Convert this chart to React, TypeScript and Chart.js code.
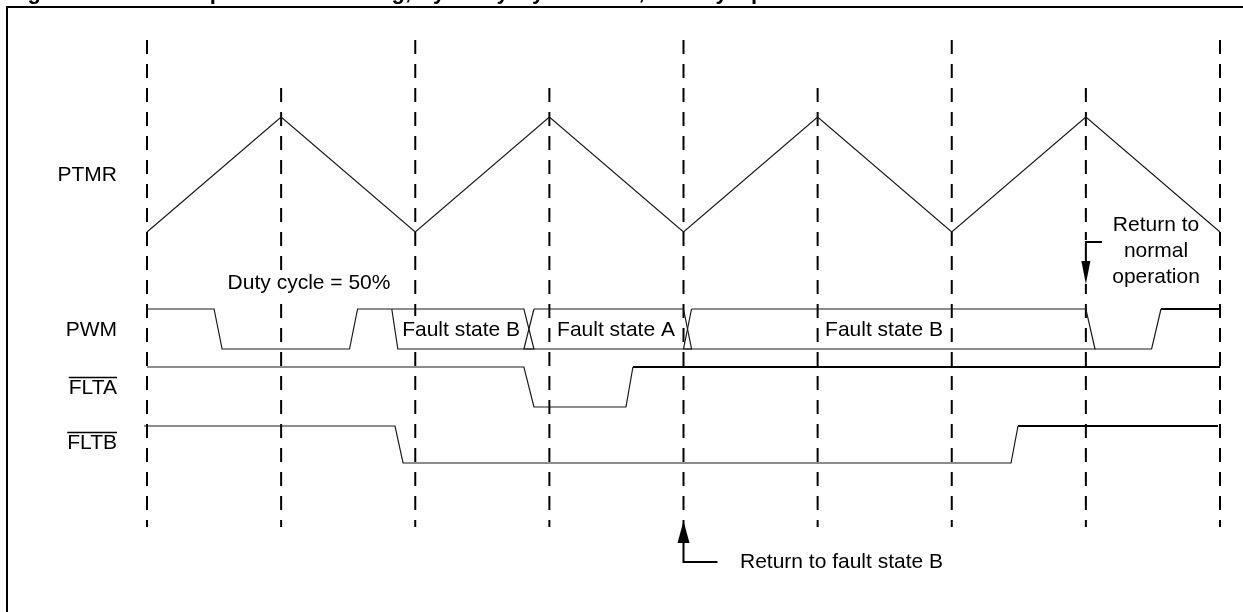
import React, { useEffect, useRef } from "react";
import { Chart, registerables } from "chart.js";

Chart.register(...registerables);

// ---- data (time in half PWM periods, levels 0 = low, 1 = high) ----
const gridTimes = [0, 1, 2, 3, 4, 5, 6, 7, 8];
const ptmrTimes = [0, 1, 2, 3, 4, 5, 6, 7, 8];
const ptmrLevels = [0, 1, 0, 1, 0, 1, 0, 1, 0];

const pwmPre: [number, number][] = [[0, 1], [0.5, 1], [0.56, 0], [1.51, 0], [1.57, 1], [1.825, 1]];
const busB1: [number, number][] = [[1.825, 1], [2.81, 1], [2.885, 0], [1.87, 0], [1.825, 1]];
const busA: [number, number][] = [[2.885, 1], [4.0, 1], [4.06, 0], [2.81, 0], [2.885, 1]];
const busB2: [number, number][] = [[4.06, 1], [7.0, 1], [7.068, 0], [4.0, 0], [4.06, 1]];
const pwmPostLow: [number, number][] = [[7.068, 0], [7.49, 0], [7.56, 1]];
const pwmPostHigh: [number, number][] = [[7.56, 1], [8, 1]];

const fltaThin: [number, number][] = [[0, 1], [2.81, 1], [2.885, 0], [3.571, 0], [3.623, 1]];
const fltaThick: [number, number][] = [[3.623, 1], [8, 1]];
const fltbThin: [number, number][] = [[-0.022, 1], [1.849, 1], [1.909, 0], [6.442, 0], [6.494, 1]];
const fltbThick: [number, number][] = [[6.494, 1], [7.985, 1]];

const signalNames = ["PTMR", "PWM", "FLTA", "FLTB"];
const busLabels = ["Fault state B", "Fault state A", "Fault state B"];
const busLabelTimes = [2.342, 3.497, 5.495];
const dutyLabel = "Duty cycle = 50%";
const dutyLabelTime = 1.208;
const normalLabel = ["Return to", "normal", "operation"];
const normalTime = 7.0;
const normalLabelTime = 7.523;
const faultBLabel = "Return to fault state B";
const faultBTime = 4.0;
const faultBLabelTime = 4.421;
const titleText = "Figure 15-24: Example of Fault Timing, Cycle-by-Cycle Mode, Priority Operation";

// ---- layout (pixels) ----
const W = 1243;
const H = 612;
const X0 = 147;
const UNIT = 134.125;
const lanes = {
  PTMR: { low: 232, high: 117, labelY: 175 },
  PWM: { low: 349, high: 309, labelY: 330 },
  FLTA: { low: 407, high: 367, labelY: 388 },
  FLTB: { low: 463, high: 426, labelY: 443 },
};
const FONT = '"Liberation Sans", Arial, Helvetica, sans-serif';

function lv(lane: { low: number; high: number }, level: number) {
  return lane.low + level * (lane.high - lane.low);
}
function pts(lane: { low: number; high: number }, arr: [number, number][]) {
  return arr.map(([t, l]) => ({ x: t, y: lv(lane, l) }));
}

const decor = {
  id: "decor",
  afterDatasetsDraw(chart: any) {
    const ctx = chart.ctx as CanvasRenderingContext2D;
    const X = (t: number) => chart.scales.x.getPixelForValue(t);
    const Y = (v: number) => chart.scales.y.getPixelForValue(v);
    ctx.save();
    // frame
    ctx.strokeStyle = "#000";
    ctx.lineWidth = 2;
    ctx.beginPath();
    ctx.moveTo(7, H + 5);
    ctx.lineTo(7, 7);
    ctx.lineTo(W + 5, 7);
    ctx.stroke();
    // title (clipped at top)
    ctx.fillStyle = "#000";
    ctx.font = `bold 22px ${FONT}`;
    ctx.textAlign = "left";
    ctx.textBaseline = "alphabetic";
    ctx.fillText(titleText, 8, -1);

    // signal labels
    ctx.font = `21px ${FONT}`;
    ctx.textAlign = "right";
    ctx.textBaseline = "middle";
    const laneList = [lanes.PTMR, lanes.PWM, lanes.FLTA, lanes.FLTB];
    signalNames.forEach((n, i) => {
      const y = Y(laneList[i].labelY);
      ctx.fillText(n, 117, y);
      if (n.startsWith("FLT")) {
        const w = ctx.measureText(n).width;
        ctx.lineWidth = 1.5;
        ctx.beginPath();
        ctx.moveTo(117 - w, y - 10.5);
        ctx.lineTo(117, y - 10.5);
        ctx.stroke();
      }
    });

    // bus labels with white background
    ctx.textAlign = "center";
    const busY = Y((lanes.PWM.low + lanes.PWM.high) / 2);
    busLabels.forEach((s, i) => {
      const x = X(busLabelTimes[i]);
      const w = ctx.measureText(s).width;
      ctx.fillStyle = "#fff";
      ctx.fillRect(x - w / 2 - 1, busY - 13, w + 2, 26);
      ctx.fillStyle = "#000";
      ctx.fillText(s, x, busY + 1);
    });

    // duty cycle
    {
      const x = X(dutyLabelTime);
      const y = Y(283);
      const w = ctx.measureText(dutyLabel).width;
      ctx.fillStyle = "#fff";
      ctx.fillRect(x - w / 2 - 2, y - 13, w + 4, 26);
      ctx.fillStyle = "#000";
      ctx.fillText(dutyLabel, x, y);
    }

    // return to normal operation
    normalLabel.forEach((s, i) => {
      ctx.fillText(s, X(normalLabelTime), Y(225 + i * 26));
    });
    ctx.lineWidth = 2;
    ctx.strokeStyle = "#000";
    {
      const x = X(normalTime);
      ctx.fillStyle = "#fff";
      ctx.fillRect(x - 3, Y(240), 6, Y(284) - Y(240));
      ctx.fillStyle = "#000";
      ctx.beginPath();
      ctx.moveTo(x + 16, Y(242));
      ctx.lineTo(x, Y(242));
      ctx.lineTo(x, Y(264));
      ctx.stroke();
      ctx.beginPath();
      ctx.moveTo(x - 4.5, Y(261));
      ctx.lineTo(x + 4.5, Y(261));
      ctx.lineTo(x, Y(284));
      ctx.closePath();
      ctx.fill();
    }

    // return to fault state B
    {
      const x = X(faultBTime);
      ctx.beginPath();
      ctx.moveTo(x, Y(540));
      ctx.lineTo(x, Y(562));
      ctx.lineTo(x + 34, Y(562));
      ctx.stroke();
      ctx.beginPath();
      ctx.moveTo(x - 6, Y(543));
      ctx.lineTo(x + 6, Y(543));
      ctx.lineTo(x, Y(521));
      ctx.closePath();
      ctx.fill();
      ctx.textAlign = "left";
      ctx.fillText(faultBLabel, X(faultBLabelTime), Y(562));
    }
    ctx.restore();
  },
};

export default function App() {
  const ref = useRef<HTMLCanvasElement | null>(null);
  useEffect(() => {
    if (!ref.current) return;
    const thin = { borderColor: "#1a1a1a", borderWidth: 1.2 };
    const thick = { borderColor: "#000", borderWidth: 2.2 };
    const mk = (data: any[], style: any, extra: any = {}) => ({
      data,
      showLine: true,
      fill: false,
      pointRadius: 0,
      tension: 0,
      ...style,
      ...extra,
    });
    const datasets: any[] = [
      mk(ptmrTimes.map((t, i) => ({ x: t, y: lv(lanes.PTMR, ptmrLevels[i]) })), thin),
      mk(pts(lanes.PWM, pwmPre), thin),
      mk(pts(lanes.PWM, busB1), thin),
      mk(pts(lanes.PWM, busA), thin),
      mk(pts(lanes.PWM, busB2), thin),
      mk(pts(lanes.PWM, pwmPostLow), thin),
      mk(pts(lanes.PWM, pwmPostHigh), thick),
      mk(pts(lanes.FLTA, fltaThin), thin),
      mk(pts(lanes.FLTA, fltaThick), thick),
      mk(pts(lanes.FLTB, fltbThin), thin),
      mk(pts(lanes.FLTB, fltbThick), thick),
      ...gridTimes.map((t, i) =>
        mk(
          [
            { x: t, y: i % 2 === 0 ? 40 : 88 },
            { x: t, y: 527 },
          ],
          { borderColor: "#000", borderWidth: 2 },
          { borderDash: [14, 10] }
        )
      ),
    ];
    const xmin = -X0 / UNIT;
    const chart = new Chart(ref.current, {
      type: "scatter",
      data: { datasets },
      options: {
        responsive: false,
        animation: false,
        devicePixelRatio: 1,
        layout: { padding: 0 },
        plugins: { legend: { display: false }, tooltip: { enabled: false }, title: { display: false } },
        scales: {
          x: { type: "linear", display: false, min: xmin, max: xmin + W / UNIT },
          y: { type: "linear", display: false, min: 0, max: H, reverse: true },
        },
        events: [],
      },
      plugins: [decor],
    });
    return () => chart.destroy();
  }, []);
  return (
    <div style={{ position: "absolute", left: 0, top: 0, width: W, height: H, background: "#fff" }}>
      <canvas ref={ref} width={W} height={H} style={{ display: "block", width: W, height: H }} />
    </div>
  );
}
